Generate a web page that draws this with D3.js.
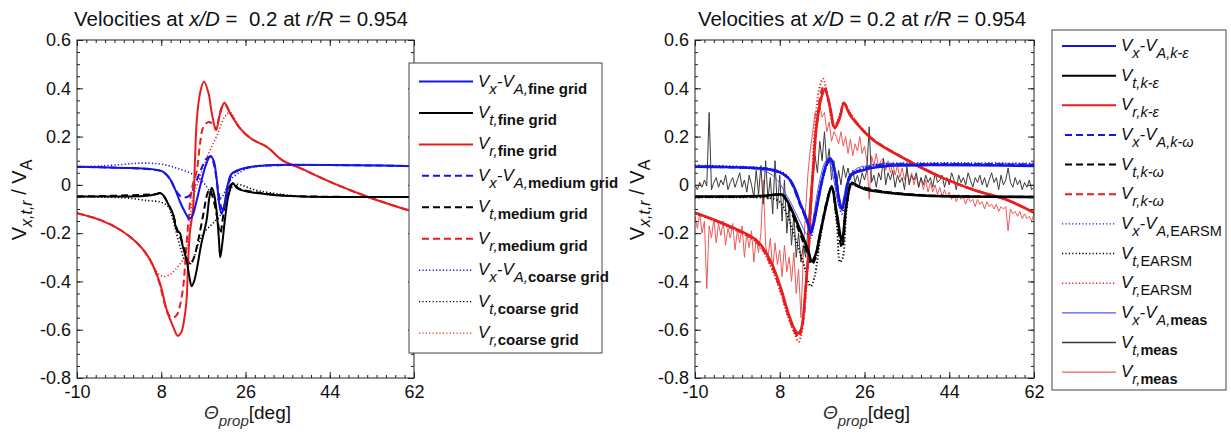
<!DOCTYPE html>
<html>
<head>
<meta charset="utf-8">
<script src="https://cdn.jsdelivr.net/npm/d3@7"></script>
<style>
  body { margin: 0; background: #fff; }
  text { font-family: "Liberation Sans", Arial, sans-serif; fill: #111; }
</style>
</head>
<body>
<svg id="chart" width="1231" height="435"></svg>
<script>
// ---------------- data ----------------
var xTicks = [-10, 8, 26, 44, 62];
var yTicks = [0.6, 0.4, 0.2, 0, -0.2, -0.4, -0.6, -0.8];

// left panel: grid study  [theta, value]
var vxFine = [[-10,0.075],[-5,0.073],[0,0.07],[4,0.068],[6,0.065],[8,0.058],[9,0.045],[10,0.02],[11,-0.02],[12,-0.07],[13,-0.11],[14,-0.14],[14.6,-0.13],[15.5,-0.07],[16.5,0.01],[17.5,0.08],[18.5,0.12],[19.2,0.1],[19.8,0.03],[20.4,-0.08],[20.9,-0.12],[21.5,-0.08],[22.2,0.0],[23,0.045],[24.5,0.062],[26.5,0.072],[30,0.08],[35,0.083],[45,0.082],[55,0.08],[62,0.077]];
var vtFine = [[-10,-0.048],[0,-0.048],[5,-0.045],[7,-0.038],[7.8,-0.034],[8.5,-0.045],[9.5,-0.08],[10.5,-0.12],[11.3,-0.186],[12,-0.2],[12.6,-0.255],[13.4,-0.31],[14,-0.38],[14.5,-0.42],[15,-0.4],[15.6,-0.35],[16.5,-0.25],[17.7,-0.145],[18.3,-0.05],[18.8,-0.012],[19.3,-0.04],[19.8,-0.104],[20.3,-0.22],[20.6,-0.3],[21,-0.25],[21.6,-0.145],[22.2,-0.06],[22.7,-0.02],[23.3,0.008],[24,-0.01],[24.8,-0.02],[27,-0.03],[29,-0.035],[32,-0.042],[35.5,-0.046],[40,-0.049],[62,-0.05]];
var vrFine = [[-10,-0.117],[-5.1,-0.145],[-0.8,-0.186],[2.8,-0.24],[5.6,-0.31],[7.7,-0.406],[9.2,-0.52],[10.6,-0.59],[11.5,-0.625],[12.3,-0.61],[12.8,-0.57],[13.4,-0.48],[13.7,-0.34],[14.1,-0.2],[14.8,-0.1],[15.2,0.1],[15.6,0.27],[16.3,0.38],[17.1,0.428],[18.1,0.38],[18.8,0.297],[19.7,0.228],[20.6,0.297],[21.5,0.34],[22.7,0.297],[24.8,0.235],[27.3,0.19],[30.5,0.158],[34,0.1],[37.6,0.07],[44.7,0.007],[51.9,-0.048],[60.7,-0.104],[62,-0.11]];
var vxMedium = [[-10,0.075],[0,0.07],[6,0.064],[8,0.057],[9,0.044],[10,0.02],[11,-0.02],[12,-0.045],[13,-0.052],[14,-0.045],[15,-0.01],[16,0.04],[17,0.085],[18,0.115],[18.8,0.11],[19.5,0.06],[20.3,-0.04],[21,-0.1],[21.6,-0.08],[22.3,-0.01],[23,0.04],[24.5,0.06],[26.5,0.072],[30,0.08],[62,0.078]];
var vtMedium = [[-10,-0.048],[7,-0.038],[7.8,-0.034],[8.5,-0.045],[9.5,-0.08],[10.5,-0.12],[11.3,-0.18],[12.3,-0.23],[13.3,-0.29],[14.2,-0.33],[15,-0.3],[16,-0.22],[17,-0.12],[17.8,-0.04],[18.3,-0.02],[19,-0.05],[19.8,-0.12],[20.6,-0.2],[21.3,-0.12],[22,-0.04],[22.8,0.0],[23.5,0.005],[24.5,-0.015],[28,-0.03],[35,-0.045],[62,-0.05]];
var vrMedium = [[-10,-0.117],[-5.1,-0.145],[-0.8,-0.186],[2.8,-0.24],[5.6,-0.31],[7.5,-0.4],[8.7,-0.49],[9.6,-0.54],[10.5,-0.55],[11.3,-0.54],[12,-0.5],[12.7,-0.42],[13.2,-0.3],[13.8,-0.15],[14.5,-0.02],[15.6,0.06],[16.3,0.173],[17,0.24],[18.1,0.26],[19.2,0.248],[19.7,0.227],[20.7,0.31],[21.5,0.335],[22.7,0.3],[24.8,0.235],[27.3,0.19],[30.5,0.158],[34,0.1],[37.6,0.07],[44.7,0.007],[51.9,-0.048],[60.7,-0.104],[62,-0.11]];
var vxCoarse = [[-10,0.075],[-5,0.078],[0,0.085],[3.5,0.09],[7,0.088],[9.5,0.08],[11.5,0.068],[13.5,0.055],[15.5,0.035],[17,0.01],[18.5,-0.03],[20,-0.06],[21,-0.05],[22,-0.01],[23,0.025],[25.5,0.06],[28,0.075],[62,0.078]];
var vtCoarse = [[-10,-0.05],[-2,-0.052],[1,-0.055],[5,-0.065],[8,-0.072],[9.5,-0.09],[10.5,-0.145],[12,-0.255],[13,-0.31],[14,-0.33],[15,-0.3],[16,-0.24],[17,-0.2],[18.5,-0.17],[19.5,-0.15],[20.5,-0.13],[21.5,-0.08],[22.5,-0.03],[23.5,0.0],[25,0.0],[27,-0.015],[29,-0.025],[32,-0.035],[36,-0.045],[40,-0.05],[62,-0.05]];
var vrCoarse = [[-10,-0.117],[-5.1,-0.145],[-0.8,-0.186],[2.8,-0.24],[5,-0.29],[6.3,-0.34],[7.5,-0.37],[8.7,-0.38],[10,-0.37],[10.6,-0.36],[12.6,-0.31],[13.8,-0.23],[14.7,-0.062],[16.3,0.035],[18.1,0.13],[19.8,0.2],[21.6,0.283],[22.7,0.3],[24.8,0.235],[27.3,0.19],[30.5,0.158],[34,0.1],[37.6,0.07],[44.7,0.007],[51.9,-0.048],[60.7,-0.104],[62,-0.11]];

// right panel: turbulence models + measurement
var vxKe = [[-10,0.075],[-5,0.074],[0,0.072],[4,0.068],[6,0.063],[7.5,0.055],[8.7,0.045],[10.2,0.02],[11.5,-0.03],[12.3,-0.075],[13.3,-0.12],[14,-0.16],[14.6,-0.2],[15.2,-0.16],[16,-0.08],[17,0.02],[18,0.09],[18.7,0.11],[19.3,0.09],[20,0.02],[20.6,-0.06],[21.2,-0.1],[21.8,-0.06],[22.5,0.01],[22.9,0.035],[24,0.05],[25.7,0.06],[27.5,0.07],[29.3,0.075],[32,0.08],[40,0.082],[50,0.081],[62,0.078]];
var vtKe = [[-10,-0.048],[0,-0.048],[5,-0.045],[7.5,-0.04],[8.7,-0.042],[10.2,-0.09],[12.3,-0.186],[14,-0.27],[14.8,-0.315],[15.6,-0.29],[16.6,-0.2],[18,-0.075],[19,-0.008],[20.1,-0.117],[21.2,-0.23],[22.2,-0.076],[23.3,0.008],[24.5,-0.005],[26.5,-0.02],[29.3,-0.028],[32.1,-0.035],[39.2,-0.045],[46.3,-0.048],[62,-0.05]];
var vrKe = [[-10,-0.115],[-4,-0.16],[3.1,-0.23],[5.9,-0.31],[8.1,-0.42],[9.8,-0.53],[11.2,-0.6],[11.9,-0.615],[12.5,-0.6],[13,-0.545],[13.4,-0.45],[14.1,-0.28],[14.4,-0.145],[14.8,-0.02],[15.1,0.06],[15.8,0.24],[16.9,0.365],[17.6,0.395],[18.7,0.32],[19.7,0.235],[20.8,0.28],[21.6,0.338],[22.9,0.29],[24.3,0.255],[27.8,0.186],[35,0.103],[42,0.034],[49.1,-0.02],[56.2,-0.062],[62,-0.115]];
var vxKw = [[-10,0.075],[0,0.072],[6,0.063],[8.7,0.045],[10.2,0.018],[12.3,-0.08],[14,-0.16],[14.6,-0.19],[15.2,-0.15],[17,0.02],[18,0.085],[18.7,0.105],[19.3,0.085],[20,0.02],[20.7,-0.07],[21.2,-0.1],[21.8,-0.055],[22.5,0.015],[23,0.04],[25.7,0.065],[29.3,0.08],[40,0.085],[62,0.083]];
var vtKw = [[-10,-0.05],[5,-0.046],[7.5,-0.04],[8.7,-0.045],[10.2,-0.1],[12.3,-0.2],[14,-0.29],[14.8,-0.33],[15.6,-0.3],[16.6,-0.2],[18,-0.07],[19,-0.01],[20.1,-0.13],[21.2,-0.26],[22.2,-0.08],[23.3,0.01],[24.5,-0.003],[29.3,-0.026],[39.2,-0.044],[62,-0.05]];
var vrKw = [[-10,-0.116],[-4,-0.162],[3.1,-0.235],[5.9,-0.32],[8.1,-0.43],[9.8,-0.54],[11.2,-0.61],[12,-0.63],[12.6,-0.6],[13.1,-0.54],[13.5,-0.44],[14.1,-0.28],[14.5,-0.12],[14.9,0.02],[15.3,0.12],[16,0.28],[16.9,0.39],[17.4,0.41],[18.5,0.34],[19.6,0.238],[20.8,0.285],[21.6,0.34],[22.9,0.295],[24.3,0.258],[27.8,0.188],[35,0.104],[42,0.035],[49.1,-0.02],[56.2,-0.062],[62,-0.115]];
var vxEarsm = [[-10,0.08],[0,0.075],[6,0.066],[8.7,0.05],[10.2,0.02],[12.3,-0.08],[14,-0.17],[14.6,-0.22],[15.2,-0.17],[17,0.01],[18,0.08],[18.7,0.1],[19.3,0.08],[20,0.0],[20.7,-0.09],[21.2,-0.12],[21.8,-0.07],[22.5,0.01],[23,0.04],[25.7,0.07],[29.3,0.085],[40,0.09],[62,0.088]];
var vtEarsm = [[-10,-0.052],[3,-0.052],[6,-0.055],[8,-0.07],[9.5,-0.12],[11.6,-0.24],[13.4,-0.35],[14,-0.4],[14.6,-0.42],[15.4,-0.38],[16.6,-0.22],[18,-0.07],[19,-0.005],[20.1,-0.16],[20.8,-0.32],[21.4,-0.3],[22.2,-0.1],[23.3,0.0],[24.5,-0.005],[29.3,-0.03],[39.2,-0.045],[62,-0.05]];
var vrEarsm = [[-10,-0.118],[-4,-0.165],[3.1,-0.24],[5.9,-0.33],[8.1,-0.44],[9.8,-0.55],[11.2,-0.62],[12,-0.65],[12.6,-0.62],[13.1,-0.55],[13.5,-0.45],[14.1,-0.28],[14.5,-0.1],[14.9,0.05],[15.5,0.25],[16.4,0.4],[17.2,0.44],[18.2,0.36],[19.5,0.24],[20.8,0.29],[21.6,0.34],[22.9,0.3],[24.3,0.26],[27.8,0.19],[35,0.105],[42,0.035],[49.1,-0.02],[56.2,-0.062],[62,-0.116]];

// measurement: theta grid and values
var thetaMeas = [-10,-9.5,-9,-8.5,-8,-7.5,-7,-6.5,-6,-5.5,-5,-4.5,-4,-3.5,-3,-2.5,-2,-1.5,-1,-0.5,
  0,0.5,1,1.5,2,2.5,3,3.5,4,4.5,5,5.5,6,6.5,7,7.5,8,8.5,9,9.5,
  10,10.5,11,11.5,12,12.5,13,13.5,14,14.5,15,15.5,16,16.5,17,17.5,18,18.5,19,19.5,
  20,20.5,21,21.5,22,22.5,23,23.5,24,24.5,25,25.5,26,26.5,27,27.5,28,28.5,29,29.5,
  30,30.5,31,31.5,32,32.5,33,33.5,34,34.5,35,35.5,36,36.5,37,37.5,38,38.5,39,39.5,
  40,40.5,41,41.5,42,42.5,43,43.5,44,44.5,45,45.5,46,46.5,47,47.5,48,48.5,49,49.5,
  50,50.5,51,51.5,52,52.5,53,53.5,54,54.5,55,55.5,56,56.5,57,57.5,58,58.5,59,59.5,
  60,60.5,61,61.5,62];
var vxMeas = [0.08,0.072,0.078,0.074,0.081,0.073,0.077,0.071,0.079,0.074,0.076,0.07,0.078,0.072,0.075,0.07,0.076,0.071,0.074,0.068,
  0.074,0.069,0.072,0.066,0.07,0.065,0.068,0.062,0.064,0.058,0.055,0.052,0.045,0.04,0.03,0.018,0.008,-0.01,-0.025,-0.045,
  -0.06,-0.08,-0.1,-0.12,-0.14,-0.16,-0.18,-0.2,-0.21,-0.2,-0.15,-0.09,-0.03,0.02,0.06,0.09,0.105,0.1,0.07,0.02,
  -0.04,-0.09,-0.1,-0.06,-0.01,0.025,0.045,0.055,0.062,0.07,0.072,0.078,0.076,0.082,0.08,0.085,0.082,0.087,0.084,0.089,
  0.085,0.09,0.086,0.084,0.091,0.087,0.089,0.085,0.092,0.086,0.088,0.084,0.09,0.087,0.085,0.091,0.086,0.089,0.084,0.088,
  0.09,0.085,0.087,0.091,0.084,0.088,0.086,0.09,0.085,0.089,0.087,0.084,0.091,0.086,0.088,0.085,0.09,0.087,0.083,0.089,
  0.086,0.09,0.084,0.088,0.085,0.091,0.086,0.083,0.089,0.087,0.085,0.09,0.084,0.088,0.086,0.082,0.089,0.085,0.087,0.083,
  0.088,0.084,0.086,0.082,0.085];
var vtMeas = [0.0,-0.02,0.01,-0.01,0.02,-0.005,0.3,-0.02,0.01,0.03,-0.01,0.02,0.0,0.04,-0.02,0.01,0.03,-0.01,0.02,0.05,
  -0.01,0.02,-0.03,0.04,0.0,-0.05,0.06,-0.04,0.08,-0.08,0.1,-0.06,0.03,-0.12,0.1,-0.1,0.04,-0.15,0.02,-0.2,
  -0.08,-0.25,-0.12,-0.3,-0.2,-0.32,-0.25,-0.3,-0.18,-0.05,0.02,0.12,0.05,0.18,0.1,0.22,0.08,0.15,0.02,0.1,
  -0.02,0.06,0.0,0.08,0.03,0.07,0.02,0.06,0.01,0.04,0.0,0.05,0.02,0.06,0.24,0.01,0.04,-0.01,0.05,0.02,
  0.11,0.0,0.05,0.02,0.06,-0.01,0.04,0.01,0.03,-0.02,0.075,0.0,0.04,0.02,0.05,-0.01,0.03,0.0,0.04,0.01,
  0.03,-0.01,0.05,0.01,0.02,0.04,-0.01,0.03,0.0,0.05,0.02,-0.02,0.04,0.01,0.03,0.0,0.05,0.02,-0.01,0.03,
  0.01,0.04,0.0,0.03,-0.01,0.02,0.05,0.01,0.03,-0.02,0.04,0.0,0.02,0.07,0.01,-0.01,0.03,0.0,0.02,-0.02,
  0.01,-0.01,0.02,-0.02,-0.01];
var vrMeas = [-0.13,-0.18,-0.12,-0.2,-0.15,-0.43,-0.17,-0.22,-0.14,-0.24,-0.16,-0.21,-0.15,-0.25,-0.18,-0.22,-0.16,-0.27,-0.19,-0.24,
  -0.17,-0.3,-0.2,-0.26,-0.19,-0.32,-0.22,-0.28,-0.2,0.02,-0.25,-0.3,-0.22,-0.35,-0.24,-0.33,-0.27,-0.38,-0.25,-0.36,
  -0.3,-0.4,-0.28,-0.45,-0.35,-0.55,-0.3,-0.1,0.05,0.15,0.22,0.3,0.25,0.33,0.28,0.3,0.22,0.26,0.18,0.22,
  0.2,0.17,0.22,0.16,0.2,0.13,0.19,0.12,0.17,0.14,0.2,0.13,0.16,0.1,-0.06,0.12,0.08,0.13,0.07,0.1,
  0.11,0.06,0.1,0.05,0.09,0.04,0.08,0.03,0.07,0.02,0.06,0.01,0.05,0.0,0.04,-0.01,0.03,-0.02,0.02,-0.03,
  0.01,-0.03,0.0,-0.04,-0.01,-0.05,-0.02,-0.05,-0.03,-0.06,-0.04,-0.07,-0.04,-0.06,-0.05,-0.08,-0.05,-0.07,-0.06,-0.09,
  -0.06,-0.08,-0.07,-0.1,-0.07,-0.09,-0.08,-0.1,-0.08,-0.11,-0.09,-0.1,-0.09,-0.19,-0.1,-0.12,-0.11,-0.13,-0.11,-0.14,
  -0.12,-0.14,-0.13,-0.15,-0.12];

// ---------------- styles ----------------
var BLUE = "#1414e6", BLACK = "#000", RED = "#e81e1e";
var MBLUE = "#5555ff", MBLACK = "#3a3a3a", MRED = "#f05a5a";
var SOLID = null, DASH = "7,4", DOT = "1.2,2.2";

var svg = d3.select("#chart");

function measPairs(vals){ return thetaMeas.map(function(t,i){ return [t, vals[i]]; }); }

var leftSeries = [
  {d: vrCoarse, c: RED, dash: DOT, w: 1.6, sub: [["r,", "i"], ["coarse grid", "b"]]},
  {d: vtCoarse, c: BLACK, dash: DOT, w: 1.6, sub: [["t,", "i"], ["coarse grid", "b"]]},
  {d: vxCoarse, c: BLUE, dash: DOT, w: 1.6, vx: true, sub: [["A,", "i"], ["coarse grid", "b"]]},
  {d: vrMedium, c: RED, dash: DASH, w: 2, sub: [["r,", "i"], ["medium grid", "b"]]},
  {d: vtMedium, c: BLACK, dash: DASH, w: 2, sub: [["t,", "i"], ["medium grid", "b"]]},
  {d: vxMedium, c: BLUE, dash: DASH, w: 2, vx: true, sub: [["A,", "i"], ["medium grid", "b"]]},
  {d: vrFine, c: RED, dash: SOLID, w: 2, sub: [["r,", "i"], ["fine grid", "b"]]},
  {d: vtFine, c: BLACK, dash: SOLID, w: 2, sub: [["t,", "i"], ["fine grid", "b"]]},
  {d: vxFine, c: BLUE, dash: SOLID, w: 2, vx: true, sub: [["A,", "i"], ["fine grid", "b"]]}
];
var rightSeries = [
  {d: measPairs(vrMeas), c: MRED, dash: SOLID, w: 1, meas: true, sub: [["r,", "i"], ["meas", "b"]]},
  {d: measPairs(vtMeas), c: MBLACK, dash: SOLID, w: 1, meas: true, sub: [["t,", "i"], ["meas", "b"]]},
  {d: measPairs(vxMeas), c: MBLUE, dash: SOLID, w: 1, meas: true, vx: true, sub: [["A,", "i"], ["meas", "b"]]},
  {d: vrEarsm, c: RED, dash: DOT, w: 2, sub: [["r,", "i"], ["EARSM", "n"]]},
  {d: vtEarsm, c: BLACK, dash: DOT, w: 2, sub: [["t,", "i"], ["EARSM", "n"]]},
  {d: vxEarsm, c: BLUE, dash: DOT, w: 2, vx: true, sub: [["A,", "i"], ["EARSM", "n"]]},
  {d: vrKw, c: RED, dash: DASH, w: 2.4, sub: [["r,k-\u03c9", "i"]]},
  {d: vtKw, c: BLACK, dash: DASH, w: 2.4, sub: [["t,k-\u03c9", "i"]]},
  {d: vxKw, c: BLUE, dash: DASH, w: 2.4, vx: true, sub: [["A,k-\u03c9", "i"]]},
  {d: vrKe, c: RED, dash: SOLID, w: 2.6, sub: [["r,k-\u03b5", "i"]]},
  {d: vtKe, c: BLACK, dash: SOLID, w: 2.6, sub: [["t,k-\u03b5", "i"]]},
  {d: vxKe, c: BLUE, dash: SOLID, w: 2.6, vx: true, sub: [["A,k-\u03b5", "i"]]}
];

// ---------------- panels ----------------
function panel(id, x0, x1, series, titleText, titleX){
  var x = d3.scaleLinear().domain([-10, 62]).range([x0, x1]);
  var y = d3.scaleLinear().domain([-0.8, 0.6]).range([378, 40]);
  var g = svg.append("g");

  g.append("clipPath").attr("id", "clip" + id)
    .append("rect").attr("x", x0).attr("y", 40).attr("width", x1 - x0).attr("height", 338);

  var line = d3.line().x(function(d){ return x(d[0]); }).y(function(d){ return y(d[1]); });
  var lines = g.append("g").attr("clip-path", "url(#clip" + id + ")");
  series.forEach(function(s){
    lines.append("path")
      .attr("d", line.curve(s.meas ? d3.curveLinear : d3.curveCatmullRom.alpha(0.5))(s.d))
      .attr("fill", "none")
      .attr("stroke", s.c)
      .attr("stroke-width", s.w)
      .attr("stroke-dasharray", s.dash)
      .attr("stroke-linejoin", "round");
  });

  // frame + inward ticks on all sides
  var minorX = d3.range(-10, 62.01, 2), minorY = d3.range(-0.8, 0.6001, 0.05);
  function ax(axis, tx, ty, vals, size, fmt){
    var a = g.append("g").attr("transform", "translate(" + tx + "," + ty + ")")
      .call(axis.tickValues(vals).tickSize(size).tickPadding(fmt ? 7 : 0).tickFormat(fmt || ""));
    a.select(".domain").remove();
    a.selectAll("line").attr("stroke", "#222");
    a.selectAll("text").style("font-size", "18px").attr("fill", "#111")
      .style("font-family", '"Liberation Sans", Arial, sans-serif');
    return a;
  }
  ax(d3.axisBottom(x), 0, 378, xTicks, -6, function(d){ return String(d); });
  ax(d3.axisBottom(x), 0, 378, minorX, -3, null);
  ax(d3.axisTop(x), 0, 40, xTicks, -6, null);
  ax(d3.axisTop(x), 0, 40, minorX, -3, null);
  var yl = ax(d3.axisLeft(y), x0, 0, yTicks, -6, function(d){ return d === 0 ? "0" : d.toFixed(1); });
  yl.selectAll("text").attr("x", -6);
  ax(d3.axisLeft(y), x0, 0, minorY, -3, null);
  ax(d3.axisRight(y), x1, 0, yTicks, -6, null);
  ax(d3.axisRight(y), x1, 0, minorY, -3, null);
  g.append("rect").attr("x", x0).attr("y", 40).attr("width", x1 - x0).attr("height", 338)
    .attr("fill", "none").attr("stroke", "#222").attr("stroke-width", 1);

  // title
  var t = g.append("text").attr("x", titleX).attr("y", 26).attr("text-anchor", "middle")
    .style("font-size", "20.5px").style("white-space", "pre");
  titleText.forEach(function(p){
    t.append("tspan").text(p[0]).style("font-style", p[1] ? "italic" : "normal");
  });

  // x label
  var xl = g.append("text").attr("x", (x0 + x1) / 2 + 2).attr("y", 419).attr("text-anchor", "middle")
    .style("font-size", "19px");
  xl.append("tspan").text("\u0398").style("font-style", "italic").attr("fill", "#333");
  xl.append("tspan").text("prop").style("font-style", "italic").style("font-size", "15px").attr("dy", 7).attr("fill", "#333");
  xl.append("tspan").text("[deg]").attr("dy", -7);

  // y label
  var ylab = g.append("text").attr("transform", "translate(" + (x0 - 51) + ",200) rotate(-90)")
    .attr("text-anchor", "middle").style("font-size", "20px");
  ylab.append("tspan").text("V");
  ylab.append("tspan").text("x,t,r").style("font-style", "italic").style("font-size", "16px").attr("dy", 6);
  ylab.append("tspan").text(" / V").attr("dy", -6);
  ylab.append("tspan").text("A").style("font-size", "16px").attr("dy", 6);
}

panel("L", 77, 414, leftSeries, [["Velocities at "], ["x/D", 1], [" =  0.2 at "], ["r/R", 1], [" = 0.954"]], 241);
panel("R", 695, 1034, rightSeries, [["Velocities at "], ["x/D", 1], [" = 0.2 at "], ["r/R", 1], [" = 0.954"]], 862);

// ---------------- legends ----------------
function legend(bx, by, bw, bh, rows, y0, dy, lx0, lx1, tx, mainSize, subSize){
  var g = svg.append("g");
  g.append("rect").attr("x", bx).attr("y", by).attr("width", bw).attr("height", bh)
    .attr("fill", "#fff").attr("stroke", "#444").attr("stroke-width", 1);
  rows.forEach(function(s, i){
    var yy = y0 + i * dy;
    g.append("line").attr("x1", s.dash === DASH ? lx0 + 3 : lx0).attr("x2", lx1)
      .attr("y1", yy).attr("y2", yy)
      .attr("stroke", s.c).attr("stroke-width", s.meas ? 1.4 : (s.dash === DOT ? 1.4 : 2))
      .attr("stroke-dasharray", s.dash);
    var t = g.append("text").attr("x", tx).attr("y", yy + 5).style("font-size", mainSize + "px");
    t.append("tspan").text("V").style("font-style", "italic");
    var shift = 0;
    function sub(txt, kind){
      var ts = t.append("tspan").text(txt).style("font-size", subSize + "px");
      if (kind === "i") ts.style("font-style", "italic");
      if (kind === "b") ts.style("font-weight", "bold");
      if (shift === 0) { ts.attr("dy", 7); shift = 7; }
    }
    if (s.vx) {
      sub("x", "i");
      t.append("tspan").text("-V").style("font-style", "italic").attr("dy", -7);
      shift = 0;
    }
    s.sub.forEach(function(p){ sub(p[0], p[1]); });
  });
}

var leftRows = leftSeries.slice().reverse();
var rightRows = rightSeries.slice(9).reverse()
  .concat(rightSeries.slice(6, 9).reverse())
  .concat(rightSeries.slice(3, 6).reverse())
  .concat(rightSeries.slice(0, 3).reverse());
legend(409, 63, 193, 290, leftRows, 81.5, 31.45, 419, 473, 478, 17, 15);
legend(1052, 30, 174, 360, rightRows, 46, 29.65, 1062, 1116, 1121, 17, 14.5);
</script>
</body>
</html>
